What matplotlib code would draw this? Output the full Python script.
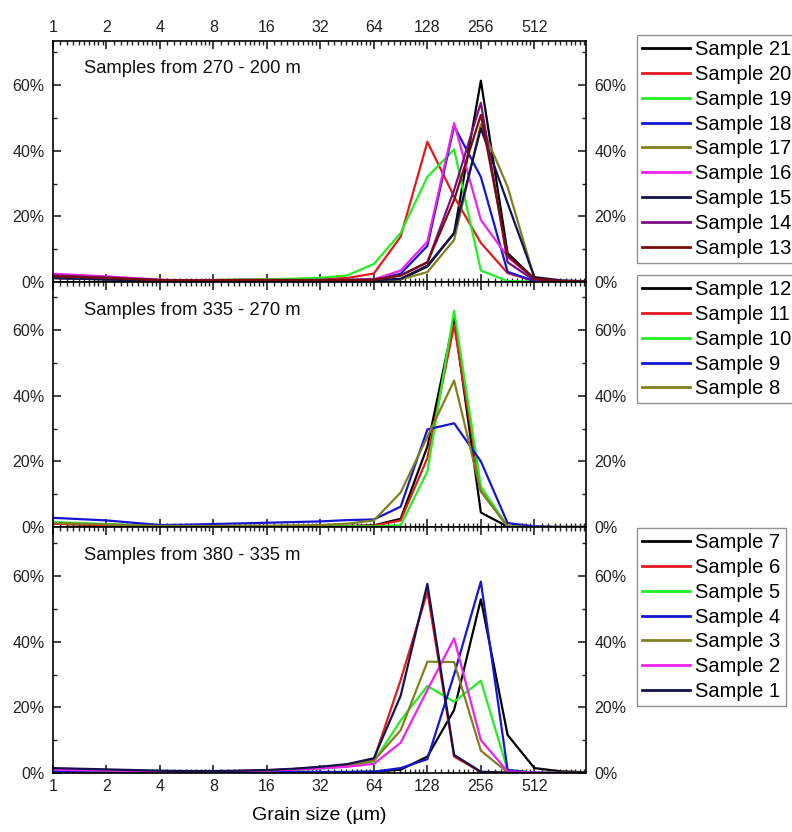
import numpy as np
import matplotlib
matplotlib.use("Agg")
import matplotlib.pyplot as plt
from matplotlib.ticker import (FixedLocator, FixedFormatter, PercentFormatter,
                               MultipleLocator, NullFormatter)

plt.rcParams['font.family'] = ['Liberation Sans', 'DejaVu Sans']

# grain size bins (um), half-phi steps
sizes = [1, 1.414, 2, 2.828, 4, 5.657, 8, 11.31, 16, 22.63, 32, 45.25, 64,
         90.51, 128, 181.0, 256, 362.0, 512, 724.1, 1024]

# Panel 1: 270 - 200 m
s21 = [1.2, 1.0, 0.8, 0.5, 0.3, 0.3, 0.3, 0.4, 0.4, 0.4, 0.4, 0.4, 0.4, 0.8, 4.7, 14.9, 61.3, 8.8, 1.0, 0.3, 0.1]
s20 = [1.5, 1.3, 1.1, 0.8, 0.5, 0.5, 0.6, 0.7, 0.7, 0.8, 0.9, 1.2, 2.6, 13.8, 42.7, 26.0, 11.9, 2.7, 0.3, 0.1, 0.0]
s19 = [1.5, 1.3, 1.1, 0.8, 0.5, 0.5, 0.6, 0.7, 0.8, 1.0, 1.3, 2.0, 5.5, 14.9, 32.0, 40.4, 3.5, 0.3, 0.1, 0.0, 0.0]
s18 = [1.3, 1.1, 0.9, 0.6, 0.4, 0.4, 0.4, 0.5, 0.5, 0.5, 0.6, 0.6, 0.8, 2.5, 11.0, 47.5, 32.0, 3.1, 0.3, 0.1, 0.0]
s17 = [1.3, 1.1, 0.9, 0.6, 0.4, 0.4, 0.4, 0.5, 0.5, 0.5, 0.5, 0.5, 0.5, 0.8, 3.0, 12.8, 48.0, 29.0, 1.2, 0.3, 0.1]
s16 = [2.5, 2.1, 1.7, 1.2, 0.7, 0.5, 0.5, 0.6, 0.6, 0.6, 0.6, 0.6, 0.8, 3.5, 12.3, 48.4, 18.9, 7.7, 0.8, 0.3, 0.1]
s15 = [1.2, 1.0, 0.8, 0.5, 0.3, 0.3, 0.3, 0.4, 0.4, 0.4, 0.4, 0.4, 0.5, 1.0, 5.0, 14.9, 46.8, 24.0, 1.5, 0.5, 0.2]
s14 = [2.0, 1.7, 1.4, 1.0, 0.6, 0.5, 0.5, 0.6, 0.6, 0.6, 0.6, 0.6, 0.7, 2.0, 6.0, 28.0, 54.6, 6.0, 0.5, 0.2, 0.1]
s13 = [1.8, 1.5, 1.2, 0.9, 0.6, 0.5, 0.5, 0.6, 0.6, 0.6, 0.6, 0.6, 0.7, 2.0, 6.0, 25.0, 50.9, 8.0, 1.0, 0.3, 0.1]

# Panel 2: 335 - 270 m
s12 = [1.0, 0.8, 0.6, 0.4, 0.2, 0.2, 0.2, 0.2, 0.2, 0.2, 0.2, 0.3, 0.5, 2.5, 24.5, 63.5, 4.4, 0.1, 0.0, 0.0, 0.0]
s11 = [1.0, 0.8, 0.6, 0.4, 0.2, 0.2, 0.2, 0.2, 0.2, 0.2, 0.2, 0.3, 0.4, 2.0, 21.0, 61.5, 11.0, 0.2, 0.0, 0.0, 0.0]
s10 = [1.5, 1.2, 0.9, 0.6, 0.3, 0.2, 0.2, 0.2, 0.2, 0.2, 0.2, 0.2, 0.2, 0.5, 16.9, 65.9, 12.3, 0.2, 0.0, 0.0, 0.0]
s9 = [2.8, 2.4, 2.0, 1.3, 0.6, 0.7, 0.9, 1.1, 1.3, 1.5, 1.7, 2.1, 2.3, 6.2, 29.7, 31.6, 20.0, 1.2, 0.2, 0.0, 0.0]
s8 = [1.2, 1.0, 0.8, 0.5, 0.3, 0.3, 0.3, 0.4, 0.4, 0.5, 0.6, 1.0, 2.0, 10.5, 27.5, 44.6, 10.8, 0.2, 0.0, 0.0, 0.0]

# Panel 3: 380 - 335 m
s7 = [1.0, 0.8, 0.6, 0.4, 0.3, 0.3, 0.3, 0.3, 0.3, 0.3, 0.3, 0.3, 0.4, 1.0, 5.0, 19.2, 52.9, 11.6, 1.5, 0.5, 0.2]
s6 = [1.2, 1.1, 0.9, 0.7, 0.5, 0.5, 0.5, 0.6, 0.8, 1.2, 1.8, 2.5, 4.1, 28.3, 55.2, 5.0, 0.3, 0.1, 0.0, 0.0, 0.0]
s5 = [0.8, 0.7, 0.6, 0.5, 0.4, 0.4, 0.4, 0.5, 0.6, 0.9, 1.3, 2.0, 3.5, 16.0, 26.5, 21.7, 28.1, 0.9, 0.1, 0.0, 0.0]
s4 = [0.5, 0.4, 0.3, 0.3, 0.2, 0.2, 0.2, 0.2, 0.2, 0.3, 0.3, 0.3, 0.4, 1.5, 4.2, 30.0, 58.3, 0.9, 0.1, 0.0, 0.0]
s3 = [1.0, 0.9, 0.8, 0.6, 0.5, 0.5, 0.5, 0.6, 0.8, 1.1, 1.6, 2.3, 3.8, 13.0, 33.9, 33.8, 6.8, 0.2, 0.0, 0.0, 0.0]
s2 = [1.0, 0.9, 0.8, 0.6, 0.5, 0.5, 0.5, 0.6, 0.8, 1.0, 1.4, 1.9, 2.8, 9.2, 25.3, 41.0, 10.0, 0.5, 0.1, 0.0, 0.0]
s1 = [1.5, 1.3, 1.1, 0.9, 0.7, 0.6, 0.6, 0.7, 0.9, 1.3, 1.9, 2.7, 4.5, 23.5, 57.6, 5.5, 0.4, 0.1, 0.0, 0.0, 0.0]

xticks = [1, 2, 4, 8, 16, 32, 64, 128, 256, 512]
xticklabels = ['1', '2', '4', '8', '16', '32', '64', '128', '256', '512']
panel_titles = ['Samples from 270 - 200 m', 'Samples from 335 - 270 m', 'Samples from 380 - 335 m']

C = dict(black='#000000', red='#e31a1c', green='#22ee22', blue='#1515d5',
         olive='#808020', magenta='#ee22ee', navy='#12124f', purple='#7a1080',
         darkred='#7a0c0c')

panels = [
    [('Sample 21', s21, C['black']), ('Sample 20', s20, C['red']), ('Sample 19', s19, C['green']),
     ('Sample 18', s18, C['blue']), ('Sample 17', s17, C['olive']), ('Sample 16', s16, C['magenta']),
     ('Sample 15', s15, C['navy']), ('Sample 14', s14, C['purple']), ('Sample 13', s13, C['darkred'])],
    [('Sample 12', s12, C['black']), ('Sample 11', s11, C['red']), ('Sample 10', s10, C['green']),
     ('Sample 9', s9, C['blue']), ('Sample 8', s8, C['olive'])],
    [('Sample 7', s7, C['black']), ('Sample 6', s6, C['red']), ('Sample 5', s5, C['green']),
     ('Sample 4', s4, C['blue']), ('Sample 3', s3, C['olive']), ('Sample 2', s2, C['magenta']),
     ('Sample 1', s1, C['navy'])],
]

W, H = 792, 832
fig = plt.figure(figsize=(W / 100, H / 100), dpi=100)

left_px, right_px = 53, 586
bounds = [(41, 282), (282, 527), (527, 773)]  # top, bottom pixel rows
px_per_pct = 197 / 60.0
legend_tops = [35, 275, 528]

minor = []
for k in range(10):
    for s in np.arange(1.1, 2.0, 0.1):
        minor.append(2 ** k * s)

for i, (series, (t, b)) in enumerate(zip(panels, bounds)):
    ax = fig.add_axes([left_px / W, 1 - b / H, (right_px - left_px) / W, (b - t) / H])
    for name, vals, col in series:
        ax.plot(sizes, vals, color=col, lw=1.6, label=name)
    ax.set_xscale('log', base=2)
    ax.set_xlim(1, 1000)
    ax.set_ylim(0, (b - t) / px_per_pct)
    ax.xaxis.set_major_locator(FixedLocator(xticks))
    ax.xaxis.set_major_formatter(FixedFormatter(xticklabels))
    ax.xaxis.set_minor_locator(FixedLocator(minor))
    ax.xaxis.set_minor_formatter(NullFormatter())
    ax.yaxis.set_major_locator(MultipleLocator(20))
    ax.yaxis.set_minor_locator(MultipleLocator(10))
    ax.yaxis.set_major_formatter(PercentFormatter(100, decimals=0))
    ax.yaxis.set_minor_formatter(NullFormatter())
    ax.tick_params(which='both', direction='in', top=True, right=True,
                   labelright=True, labelsize=11.5, colors='#222222')
    ax.tick_params(which='major', length=6, width=1.2)
    ax.tick_params(which='minor', length=3, width=1.0)
    ax.tick_params(axis='x', labeltop=(i == 0), labelbottom=(i == 2), pad=4)
    ax.tick_params(axis='y', pad=6)
    for sp in ax.spines.values():
        sp.set_linewidth(1.2)
    ax.text(0.058, 0.885, panel_titles[i], transform=ax.transAxes, fontsize=13.2,
            ha='left', va='center', color='#111111')
    leg = ax.legend(loc='upper left', bbox_to_anchor=(637 / W, 1 - legend_tops[i] / H),
                    bbox_transform=fig.transFigure, fontsize=14.5, frameon=True,
                    fancybox=False, handlelength=2.4, handletextpad=0.25,
                    labelspacing=0.29, borderpad=0.25, borderaxespad=0)
    leg.get_frame().set_edgecolor('#777777')
    leg.get_frame().set_linewidth(1.0)
    for line in leg.get_lines():
        line.set_linewidth(2.0)
    if i == 2:
        ax.set_xlabel('Grain size (µm)', fontsize=14, labelpad=10)

fig.savefig('out.png', dpi=100)
